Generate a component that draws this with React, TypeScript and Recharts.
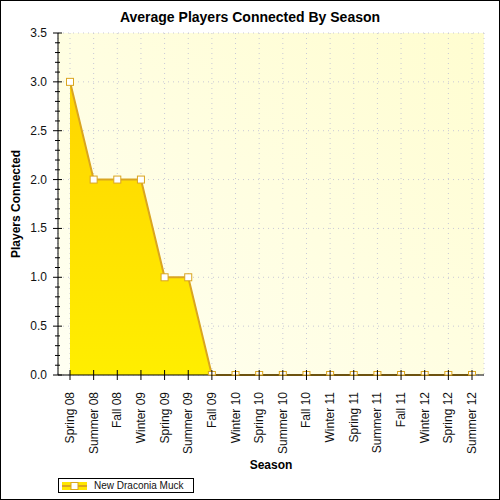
import { AreaChart, Area, XAxis, YAxis, CartesianGrid } from 'recharts'

const seasons = [
  'Spring 08', 'Summer 08', 'Fall 08', 'Winter 09', 'Spring 09', 'Summer 09',
  'Fall 09', 'Winter 10', 'Spring 10', 'Summer 10', 'Fall 10', 'Winter 11',
  'Spring 11', 'Summer 11', 'Fall 11', 'Winter 12', 'Spring 12', 'Summer 12',
]
const players = [3, 2, 2, 2, 1, 1, 0, 0, 0, 0, 0, 0, 0, 0, 0, 0, 0, 0]
const seriesName = 'New Draconia Muck'
const yMajor = [0, 0.5, 1, 1.5, 2, 2.5, 3, 3.5]

// 4 minor ticks between each major one
const yTicks = yMajor.flatMap((v, i) =>
  i === yMajor.length - 1 ? [v] : [0, 1, 2, 3, 4].map(k => Number((v + k * 0.1).toFixed(1)))
)
const isMajor = (v: number) => yMajor.includes(v)

const data = seasons.map((s, i) => ({ season: s, value: players[i] }))

const FONT = '"Liberation Sans", Arial, sans-serif'
const LINE = '#DAA520'

function LeftTick({ x, y, payload }: any) {
  const major = isMajor(payload.value)
  return (
    <g>
      <line x1={major ? x - 5 : x - 3} x2={major ? x + 4 : x + 2} y1={y} y2={y} stroke="#000" />
      {major && (
        <text x={x - 11} y={y} dy={4} textAnchor="end" fontSize={12} fontFamily={FONT} fill="#111">
          {payload.value.toFixed(1)}
        </text>
      )}
    </g>
  )
}

function RightTick({ x, y, payload }: any) {
  const major = isMajor(payload.value)
  return <line x1={major ? x - 5 : x - 3} x2={x} y1={y} y2={y} stroke="#000" />
}

function BottomTick({ x, y, payload }: any) {
  return (
    <g>
      <line x1={x} x2={x} y1={y - 5} y2={y + 5} stroke="#000" />
      <text
        x={x}
        y={y + 17}
        dy={4}
        textAnchor="end"
        transform={`rotate(-90, ${x}, ${y + 17})`}
        fontSize={12}
        fontFamily={FONT}
        fill="#111"
      >
        {payload.value}
      </text>
    </g>
  )
}

function TopTick({ x, y }: any) {
  return <line x1={x} x2={x} y1={y} y2={y + 5} stroke="#000" />
}

function SquareDot({ cx, cy, value, index }: any) {
  if (cx == null || cy == null) return null
  const v = Array.isArray(value) ? value[1] : value
  // markers on the zero line are cut by the plot edge
  const h = v === 0 ? 3.5 : 7
  return (
    <rect key={index} x={cx - 3.5} y={cy - 3.5} width={7} height={h} fill="#fff" stroke={LINE} strokeWidth={1} />
  )
}

export default function App() {
  return (
    <div
      style={{
        position: 'absolute',
        left: 0,
        top: 0,
        width: 500,
        height: 500,
        boxSizing: 'border-box',
        border: '1px solid #000',
        background: '#fff',
        fontFamily: FONT,
      }}
    >
      <div style={{ position: 'absolute', left: -1, top: -1 }}>
        <AreaChart width={500} height={500} data={data} margin={{ top: 33, right: 16, left: 0, bottom: 35 }}>
          <defs>
            <linearGradient id="plotBg" x1="0" y1="1" x2="1" y2="0">
              <stop offset="0%" stopColor="#FFFFF2" />
              <stop offset="100%" stopColor="#FFFDD0" />
            </linearGradient>
            <linearGradient id="areaFill" x1="0" y1="0" x2="0" y2="1">
              <stop offset="0%" stopColor="#FFD500" />
              <stop offset="100%" stopColor="#FFEE00" />
            </linearGradient>
          </defs>
          <text x={250} y={22} textAnchor="middle" fontSize={14} fontWeight="bold" fontFamily={FONT} fill="#000">
            Average Players Connected By Season
          </text>
          <CartesianGrid
            fill="url(#plotBg)"
            stroke="#C8C8D6"
            strokeDasharray="1 4"
            horizontalValues={yMajor}
          />
          <XAxis
            dataKey="season"
            interval={0}
            padding={{ left: 12, right: 12 }}
            height={90}
            tickSize={0}
            tickMargin={0}
            tickLine={false}
            axisLine={{ stroke: '#000' }}
            tick={<BottomTick />}
            label={{
              content: ({ viewBox }: any) => (
                <text
                  x={viewBox.x + viewBox.width / 2}
                  y={viewBox.y + 94}
                  textAnchor="middle"
                  fontSize={12}
                  fontWeight="bold"
                  fontFamily={FONT}
                  fill="#000"
                >
                  Season
                </text>
              ),
            }}
          />
          <XAxis
            xAxisId="top"
            orientation="top"
            dataKey="season"
            interval={0}
            padding={{ left: 12, right: 12 }}
            height={0}
            tickSize={0}
            tickMargin={0}
            tickLine={false}
            axisLine={{ stroke: '#000' }}
            tick={<TopTick />}
          />
          <YAxis
            domain={[0, 3.5]}
            ticks={yTicks}
            interval={0}
            width={58}
            tickSize={0}
            tickMargin={0}
            tickLine={false}
            axisLine={{ stroke: '#000' }}
            tick={<LeftTick />}
            label={{
              content: ({ viewBox }: any) => {
                const cx = viewBox.x + 20
                const cy = viewBox.y + viewBox.height / 2
                return (
                  <text
                    x={cx}
                    y={cy}
                    textAnchor="middle"
                    transform={`rotate(-90, ${cx}, ${cy})`}
                    fontSize={12}
                    fontWeight="bold"
                    fontFamily={FONT}
                    fill="#000"
                  >
                    Players Connected
                  </text>
                )
              },
            }}
          />
          <YAxis
            yAxisId="r"
            orientation="right"
            domain={[0, 3.5]}
            ticks={yTicks}
            interval={0}
            width={0}
            tickSize={0}
            tickMargin={0}
            tickLine={false}
            axisLine={{ stroke: '#000' }}
            tick={<RightTick />}
          />
          <Area
            type="linear"
            dataKey="value"
            name={seriesName}
            stroke={LINE}
            strokeWidth={2}
            fill="url(#areaFill)"
            fillOpacity={1}
            dot={<SquareDot />}
            activeDot={false}
            isAnimationActive={false}
          />
        </AreaChart>
      </div>
      <div
        style={{
          position: 'absolute',
          left: 57,
          top: 477,
          width: 136,
          height: 15,
          boxSizing: 'border-box',
          border: '1px solid #000',
          background: '#fff',
          display: 'flex',
          alignItems: 'center',
          whiteSpace: 'nowrap',
          overflow: 'hidden',
        }}
      >
        <svg width={28} height={12} style={{ marginLeft: 2, flexShrink: 0 }}>
          <rect x={1} y={2} width={25} height={8} fill="#FFE600" />
          <line x1={1} x2={26} y1={6} y2={6} stroke={LINE} strokeWidth={2} />
          <rect x={10} y={2.5} width={7} height={7} fill="#fff" stroke={LINE} />
        </svg>
        <span style={{ fontSize: 10, marginLeft: 5, color: '#111', lineHeight: '12px' }}>{seriesName}</span>
      </div>
    </div>
  )
}
